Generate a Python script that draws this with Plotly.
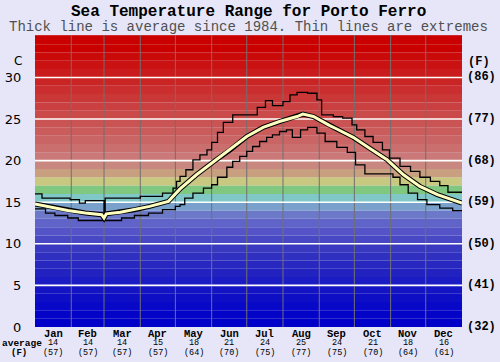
import plotly.graph_objects as go

# ---------------- data ----------------
months = ["Jan", "Feb", "Mar", "Apr", "May", "Jun", "Jul", "Aug", "Sep", "Oct", "Nov", "Dec"]
month_avg_c = [14, 14, 14, 15, 18, 21, 24, 25, 24, 21, 18, 16]
month_avg_f = [57, 57, 57, 57, 64, 70, 75, 77, 75, 70, 64, 61]
month_starts = [0, 31, 59, 90, 120, 151, 181, 212, 243, 273, 304, 334, 365]

c_ticks = [0, 5, 10, 15, 20, 25, 30]
f_labels = ["(32)", "(41)", "(50)", "(59)", "(68)", "(77)", "(86)"]

max_days = [0, 6, 30, 38, 43, 59, 60, 90, 109, 118, 121, 124, 129, 135, 141, 147, 151, 156, 161, 169,
            190, 197, 203, 212, 218, 224, 233, 241, 245, 255, 263, 271, 275, 282, 289, 297, 303, 312,
            321, 329, 338, 346, 353, 365]
max_vals = [16.0, 15.5, 15.3, 14.9, 15.2, 13.1, 15.5, 15.7, 16.1, 16.7, 17.5, 18.1, 18.9, 20.1, 20.7,
            21.3, 22.2, 23.4, 24.6, 25.5, 26.4, 27.2, 26.6, 27.1, 27.9, 28.2, 28.1, 27.3, 25.5, 25.3,
            25.1, 24.3, 23.7, 22.9, 22.2, 21.3, 20.3, 19.3, 18.7, 18.0, 17.5, 17.0, 16.2, 16.1]

avg_days = [0, 15, 28, 43, 57, 59, 61, 73, 85, 98, 114, 124, 138, 152, 167, 181, 195, 209, 224, 229,
            238, 244, 252, 258, 272, 286, 301, 315, 329, 344, 365]
avg_vals = [14.8, 14.4, 14.0, 13.7, 13.5, 13.1, 13.6, 13.8, 14.1, 14.5, 15.1, 16.6, 18.3, 19.8, 21.3,
            22.9, 24.0, 24.7, 25.3, 25.6, 25.3, 24.8, 24.2, 23.8, 22.8, 21.5, 20.1, 18.3, 16.9, 15.9, 14.9]

min_days = [0, 9, 17, 28, 37, 74, 85, 97, 109, 120, 124, 128, 135, 144, 151, 156, 164, 169, 175, 181,
            186, 192, 198, 203, 209, 215, 220, 227, 233, 241, 248, 258, 267, 274, 282, 306, 312, 319,
            327, 335, 346, 357, 365]
min_vals = [14.2, 13.7, 13.4, 13.1, 12.8, 13.1, 13.4, 13.7, 14.1, 14.5, 14.7, 15.5, 16.1, 16.7, 17.1,
            18.0, 19.2, 19.9, 20.5, 21.1, 21.7, 22.3, 22.8, 23.1, 23.5, 23.7, 22.8, 23.7, 24.0, 23.3,
            22.3, 21.6, 21.0, 19.5, 18.4, 18.0, 17.1, 16.1, 15.3, 14.7, 14.3, 14.0, 14.0]

# ---------------- styling ----------------
BG = "#e6e6f8"
MONO = "Liberation Mono, Courier New, monospace"
SANS = "DejaVu Sans, Verdana, sans-serif"
YMAX = 35.1


def band_color(t):
    blues = [(0, 0, 200), (4, 4, 200), (8, 8, 200), (14, 14, 196), (20, 20, 196), (28, 28, 196),
             (34, 34, 192), (40, 40, 192), (48, 48, 192), (56, 56, 192), (72, 72, 196), (84, 84, 200),
             (96, 100, 200), (108, 120, 200), (122, 160, 204), (128, 200, 200), (128, 200, 128),
             (200, 200, 128), (200, 160, 128), (200, 136, 128)]
    if t < len(blues):
        r, g, b = blues[t]
    else:
        v = max(0, int(120 - 9.2 * (t - 20)))
        r, g, b = (202, v, v)
    return f"rgb({r},{g},{b})"


shapes = []
for t in range(0, 36):
    shapes.append(dict(type="rect", xref="paper", yref="y", x0=0, x1=1, y0=t, y1=min(t + 1, YMAX),
                       fillcolor=band_color(t), line=dict(width=0), layer="below"))
for d in month_starts[1:-1]:
    shapes.append(dict(type="line", xref="x", yref="paper", x0=d, x1=d, y0=0, y1=1,
                       line=dict(color="#707070", width=1), layer="between"))
for c in c_ticks[1:]:
    shapes.append(dict(type="line", xref="paper", yref="y", x0=0, x1=1, y0=c, y1=c,
                       line=dict(color="white", width=1.6), layer="between"))

fig = go.Figure()
fig.add_trace(go.Scatter(x=max_days, y=max_vals, mode="lines", line=dict(color="black", width=1.3, shape="hv"),
                         hoverinfo="skip"))
fig.add_trace(go.Scatter(x=min_days, y=min_vals, mode="lines", line=dict(color="black", width=1.3, shape="hv"),
                         hoverinfo="skip"))
fig.add_trace(go.Scatter(x=avg_days, y=avg_vals, mode="lines", line=dict(color="black", width=5),
                         hoverinfo="skip"))
fig.add_trace(go.Scatter(x=avg_days, y=avg_vals, mode="lines", line=dict(color="#ffffc0", width=3),
                         hoverinfo="skip"))

ann = []
ann.append(dict(text="<b>Sea Temperature Range for Porto Ferro</b>", x=0.5, y=(327 - 12.5) / 292, xref="paper",
                yref="paper", showarrow=False, font=dict(family=MONO, size=16, color="black"),
                xanchor="center", yanchor="middle"))
ann.append(dict(text="Thick line is average since 1984. Thin lines are extremes", x=0.5, y=(327 - 27) / 292,
                xref="paper", yref="paper", showarrow=False, font=dict(family=MONO, size=14, color="#505050"),
                xanchor="center", yanchor="middle"))
ann.append(dict(text="C", x=(17.5 - 35) / 427, y=(327 - 61) / 292, xref="paper", yref="paper", showarrow=False,
                font=dict(family=SANS, size=12, color="black"), xanchor="center", yanchor="middle"))
ann.append(dict(text="<b>(F)</b>", x=(479 - 35) / 427, y=(327 - 62) / 292, xref="paper", yref="paper",
                showarrow=False, font=dict(family=MONO, size=12, color="black"), xanchor="center", yanchor="middle"))
for c, f in zip(c_ticks, f_labels):
    ann.append(dict(text=f"<b>{f}</b>", x=(465 - 35) / 427, y=c, xref="paper", yref="y", showarrow=False,
                    font=dict(family=MONO, size=12, color="black"), xanchor="left", yanchor="middle"))
for i, m in enumerate(months):
    mid = (month_starts[i] + month_starts[i + 1]) / 2
    ann.append(dict(text=f"<b>{m}</b>", x=mid, y=(327 - 334) / 292, xref="x", yref="paper", showarrow=False,
                    font=dict(family=MONO, size=10.5, color="black"), xanchor="center", yanchor="middle"))
    ann.append(dict(text=str(month_avg_c[i]), x=mid, y=(327 - 343) / 292, xref="x", yref="paper", showarrow=False,
                    font=dict(family=MONO, size=8.5, color="black"), xanchor="center", yanchor="middle"))
    ann.append(dict(text=f"({month_avg_f[i]})", x=mid, y=(327 - 352.5) / 292, xref="x", yref="paper",
                    showarrow=False, font=dict(family=MONO, size=8.5, color="black"), xanchor="center",
                    yanchor="middle"))
ann.append(dict(text="<b>average</b>", x=(22 - 35) / 427, y=(327 - 343) / 292, xref="paper", yref="paper",
                showarrow=False, font=dict(family=MONO, size=9.5, color="black"), xanchor="center",
                yanchor="middle"))
ann.append(dict(text="<b>(F)</b>", x=(19 - 35) / 427, y=(327 - 352.5) / 292, xref="paper", yref="paper",
                showarrow=False, font=dict(family=MONO, size=9, color="black"), xanchor="center",
                yanchor="middle"))

fig.update_layout(
    width=500, height=362,
    margin=dict(l=35, r=38, t=35, b=35),
    paper_bgcolor=BG, plot_bgcolor=BG,
    showlegend=False,
    shapes=shapes,
    annotations=ann,
    xaxis=dict(range=[0, 365], showgrid=False, zeroline=False, showticklabels=False, ticks="",
               showline=False, fixedrange=True, automargin=False),
    yaxis=dict(range=[0, YMAX], showgrid=False, zeroline=False, tickvals=c_ticks,
               ticktext=[str(c) for c in c_ticks], ticks="outside", ticklen=10, tickcolor=BG,
               tickfont=dict(family=SANS, size=13, color="black"), showline=False, fixedrange=True,
               automargin=False),
)

fig.write_html("out.html", config={"displayModeBar": False},
               post_script="document.body.style.margin='0';document.body.style.background='%s';" % BG)
